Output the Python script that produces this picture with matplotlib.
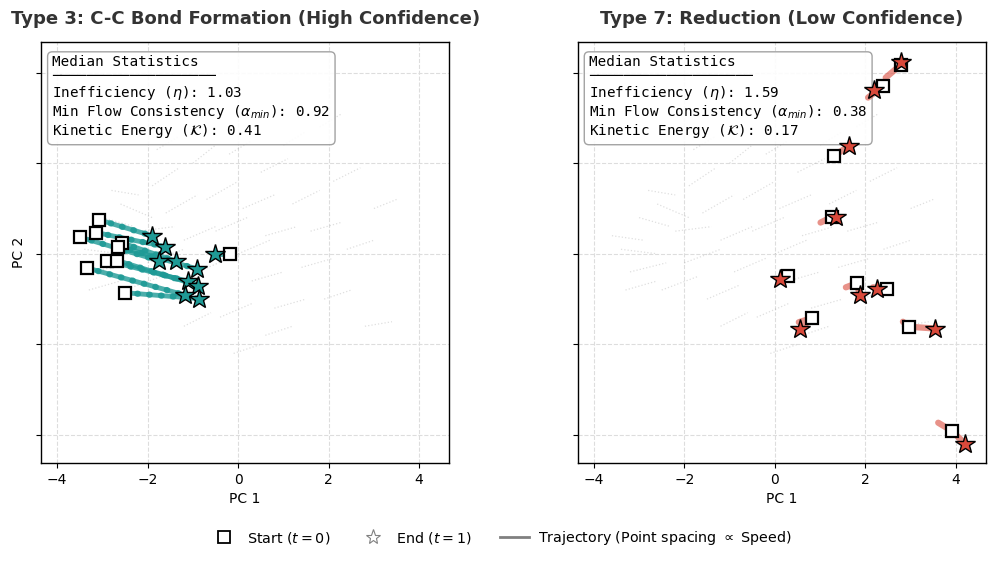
import numpy as np
import matplotlib
matplotlib.use("Agg")
import matplotlib.pyplot as plt
from matplotlib.lines import Line2D

# --- Type 3 (left panel): start / end of each trajectory in PC space
t3_start_x = [-3.07, -3.14, -3.50, -2.56, -2.65, -2.89, -2.67, -3.35, -2.49, -0.18]
t3_start_y = [0.75, 0.47, 0.37, 0.24, 0.16, -0.15, -0.15, -0.31, -0.86, 0.00]
t3_end_x = [-1.91, -1.62, -1.75, -1.38, -0.92, -1.10, -0.88, -1.18, -0.86, -0.51]
t3_end_y = [0.40, 0.16, -0.15, -0.16, -0.33, -0.61, -0.70, -0.91, -0.99, 0.00]

# --- Type 7 (right panel): tail of path, start, end
t7_tail_x = [2.45, 2.06, 1.40, 1.01, 0.22, 1.57, 2.17, 0.53, 2.83, 3.61]
t7_tail_y = [3.89, 3.45, 2.20, 0.69, -0.50, -0.74, -0.74, -1.51, -1.50, -3.73]
t7_start_x = [2.79, 2.39, 1.30, 1.27, 0.29, 1.81, 2.48, 0.82, 2.97, 3.91]
t7_start_y = [4.18, 3.70, 2.17, 0.82, -0.48, -0.65, -0.77, -1.42, -1.61, -3.91]
t7_end_x = [2.78, 2.19, 1.63, 1.35, 0.12, 1.88, 2.25, 0.56, 3.54, 4.21]
t7_end_y = [4.23, 3.61, 2.37, 0.81, -0.55, -0.92, -0.77, -1.66, -1.65, -4.20]

# --- faint background trajectories (all samples)
bg_x0 = [-3.6, -3.4, -3.2, -3.0, -2.6, -2.5, -2.2, -2.0, -1.9, -1.6, -1.5, -1.2, -1.0, -0.9,
         -0.7, -0.5, -0.4, -0.2, 0.0, 0.1, 0.3, 0.5, 0.6, 0.8, 1.0, 1.2, 1.4, 1.6, 1.9, 2.1,
         2.4, 2.8, 0.6, -1.2, -2.8, -3.3, -1.8, 1.8, 3.0, -0.1]
bg_y0 = [0.4, 0.1, -0.4, 0.8, 1.1, -0.8, 0.5, -0.2, 1.5, 0.9, -1.0, 0.3, 2.0, -0.4,
         1.2, 0.5, -1.4, 2.2, 0.0, 1.0, -0.6, 1.8, 0.4, -1.2, 2.4, 1.1, -0.3, 0.5, -1.0, 1.6,
         0.1, -1.6, -1.8, -1.6, 1.4, -0.8, 2.3, 2.8, 1.0, -2.2]
bg_x1 = [-2.9, -2.6, -2.4, -2.3, -1.9, -1.7, -1.4, -1.2, -1.3, -0.9, -0.8, -0.5, -0.5, -0.2,
         0.0, 0.2, 0.3, 0.3, 0.7, 0.8, 1.0, 1.1, 1.3, 1.5, 1.5, 1.8, 2.1, 2.3, 2.5, 2.7,
         3.0, 3.4, 1.2, -0.6, -2.2, -2.6, -1.3, 2.3, 3.5, 0.5]
bg_y1 = [0.3, 0.0, -0.2, 0.6, 0.8, -0.5, 0.6, 0.1, 1.9, 1.3, -0.7, 0.6, 2.4, -0.1,
         1.6, 0.8, -1.1, 2.5, 0.3, 1.3, -0.4, 2.1, 0.6, -1.0, 2.7, 1.4, -0.1, 0.7, -0.8, 1.9,
         0.3, -1.5, -1.6, -1.3, 1.3, -0.6, 2.6, 3.1, 1.2, -2.0]

stats_t3 = ["1.03", "0.92", "0.41"]
stats_t7 = ["1.59", "0.38", "0.17"]
titles = ["Type 3: C-C Bond Formation (High Confidence)", "Type 7: Reduction (Low Confidence)"]

TEAL = "#1f9a96"
RED = "#d9493b"

fig = plt.figure(figsize=(9.97, 5.63), dpi=100)
ax1 = fig.add_axes([0.0414, 0.1776, 0.409, 0.748])
ax2 = fig.add_axes([0.5797, 0.1776, 0.409, 0.748])


def draw_background(ax):
    for x0, y0, x1, y1 in zip(bg_x0, bg_y0, bg_x1, bg_y1):
        ax.plot([x0, x1], [y0, y1], color="gray", linestyle=":", linewidth=0.9, alpha=0.25, zorder=1)


def style_axes(ax, title, vals):
    ax.set_xlim(-4.35, 4.66)
    ax.set_ylim(-4.62, 4.68)
    ax.set_xticks([-4, -2, 0, 2, 4])
    ax.set_yticks([-4, -2, 0, 2, 4])
    ax.set_yticklabels([])
    ax.grid(True, linestyle="--", color="#dddddd", linewidth=0.8, zorder=0)
    ax.set_axisbelow(True)
    ax.set_xlabel("PC 1", fontsize=10)
    ax.set_title(title, fontsize=13, fontweight="bold", color="#333333", pad=13)
    for s in ax.spines.values():
        s.set_linewidth(1.0)
    txt = ("Median Statistics\n" + "\u2500" * 19 + "\n"
           r"Inefficiency ($\eta$): " + vals[0] + "\n"
           r"Min Flow Consistency ($\alpha_{min}$): " + vals[1] + "\n"
           r"Kinetic Energy ($\mathcal{K}$): " + vals[2])
    ax.text(0.027, 0.97, txt, transform=ax.transAxes, va="top", ha="left",
            family="DejaVu Sans Mono", fontsize=10.25, linespacing=1.07, zorder=4,
            bbox=dict(boxstyle="round,pad=0.33", facecolor="white", edgecolor="#999999", alpha=0.9))


# left panel
draw_background(ax1)
for x0, y0, x1, y1 in zip(t3_start_x, t3_start_y, t3_end_x, t3_end_y):
    ax1.plot([x0, x1], [y0, y1], color=TEAL, linewidth=3.5, alpha=0.8,
             solid_capstyle="round", zorder=3)
    ax1.plot([x0, x1], [y0, y1], color=TEAL, linewidth=4.5, linestyle=(0, (0.1, 1.8)),
             dash_capstyle="round", alpha=0.9, zorder=3)
ax1.plot(t3_start_x, t3_start_y, "s", color="none", markerfacecolor="white",
         markeredgecolor="black", markersize=9, markeredgewidth=1.6, zorder=5)
ax1.plot(t3_end_x, t3_end_y, "*", color="none", markerfacecolor=TEAL,
         markeredgecolor="black", markersize=15, markeredgewidth=1.0, zorder=6)
ax1.set_ylabel("PC 2", fontsize=10)
style_axes(ax1, titles[0], stats_t3)

# right panel
draw_background(ax2)
for xt, yt, x0, y0, x1, y1 in zip(t7_tail_x, t7_tail_y, t7_start_x, t7_start_y, t7_end_x, t7_end_y):
    ax2.plot([xt, x0, x1], [yt, y0, y1], color=RED, linewidth=4.5, alpha=0.6,
             solid_capstyle="round", solid_joinstyle="round", zorder=5)
ax2.plot(t7_start_x, t7_start_y, "s", color="none", markerfacecolor="white",
         markeredgecolor="black", markersize=9, markeredgewidth=1.6, zorder=5)
ax2.plot(t7_end_x, t7_end_y, "*", color="none", markerfacecolor=RED,
         markeredgecolor="black", markersize=15, markeredgewidth=1.0, zorder=6)
style_axes(ax2, titles[1], stats_t7)

handles = [
    Line2D([], [], marker="s", linestyle="none", markerfacecolor="white",
           markeredgecolor="black", markersize=8, markeredgewidth=1.3),
    Line2D([], [], marker="*", linestyle="none", markerfacecolor="white",
           markeredgecolor="gray", markersize=11, markeredgewidth=0.8),
    Line2D([], [], color="gray", linewidth=2),
]
labels = ["Start ($t=0$)", "End ($t=1$)", r"Trajectory (Point spacing $\propto$ Speed)"]
fig.legend(handles, labels, loc="center", bbox_to_anchor=(0.502, 0.044), ncol=3,
           frameon=False, fontsize=10.3, handlelength=2.0, handletextpad=0.6,
           columnspacing=2.0)

fig.savefig("out.png", dpi=100)
